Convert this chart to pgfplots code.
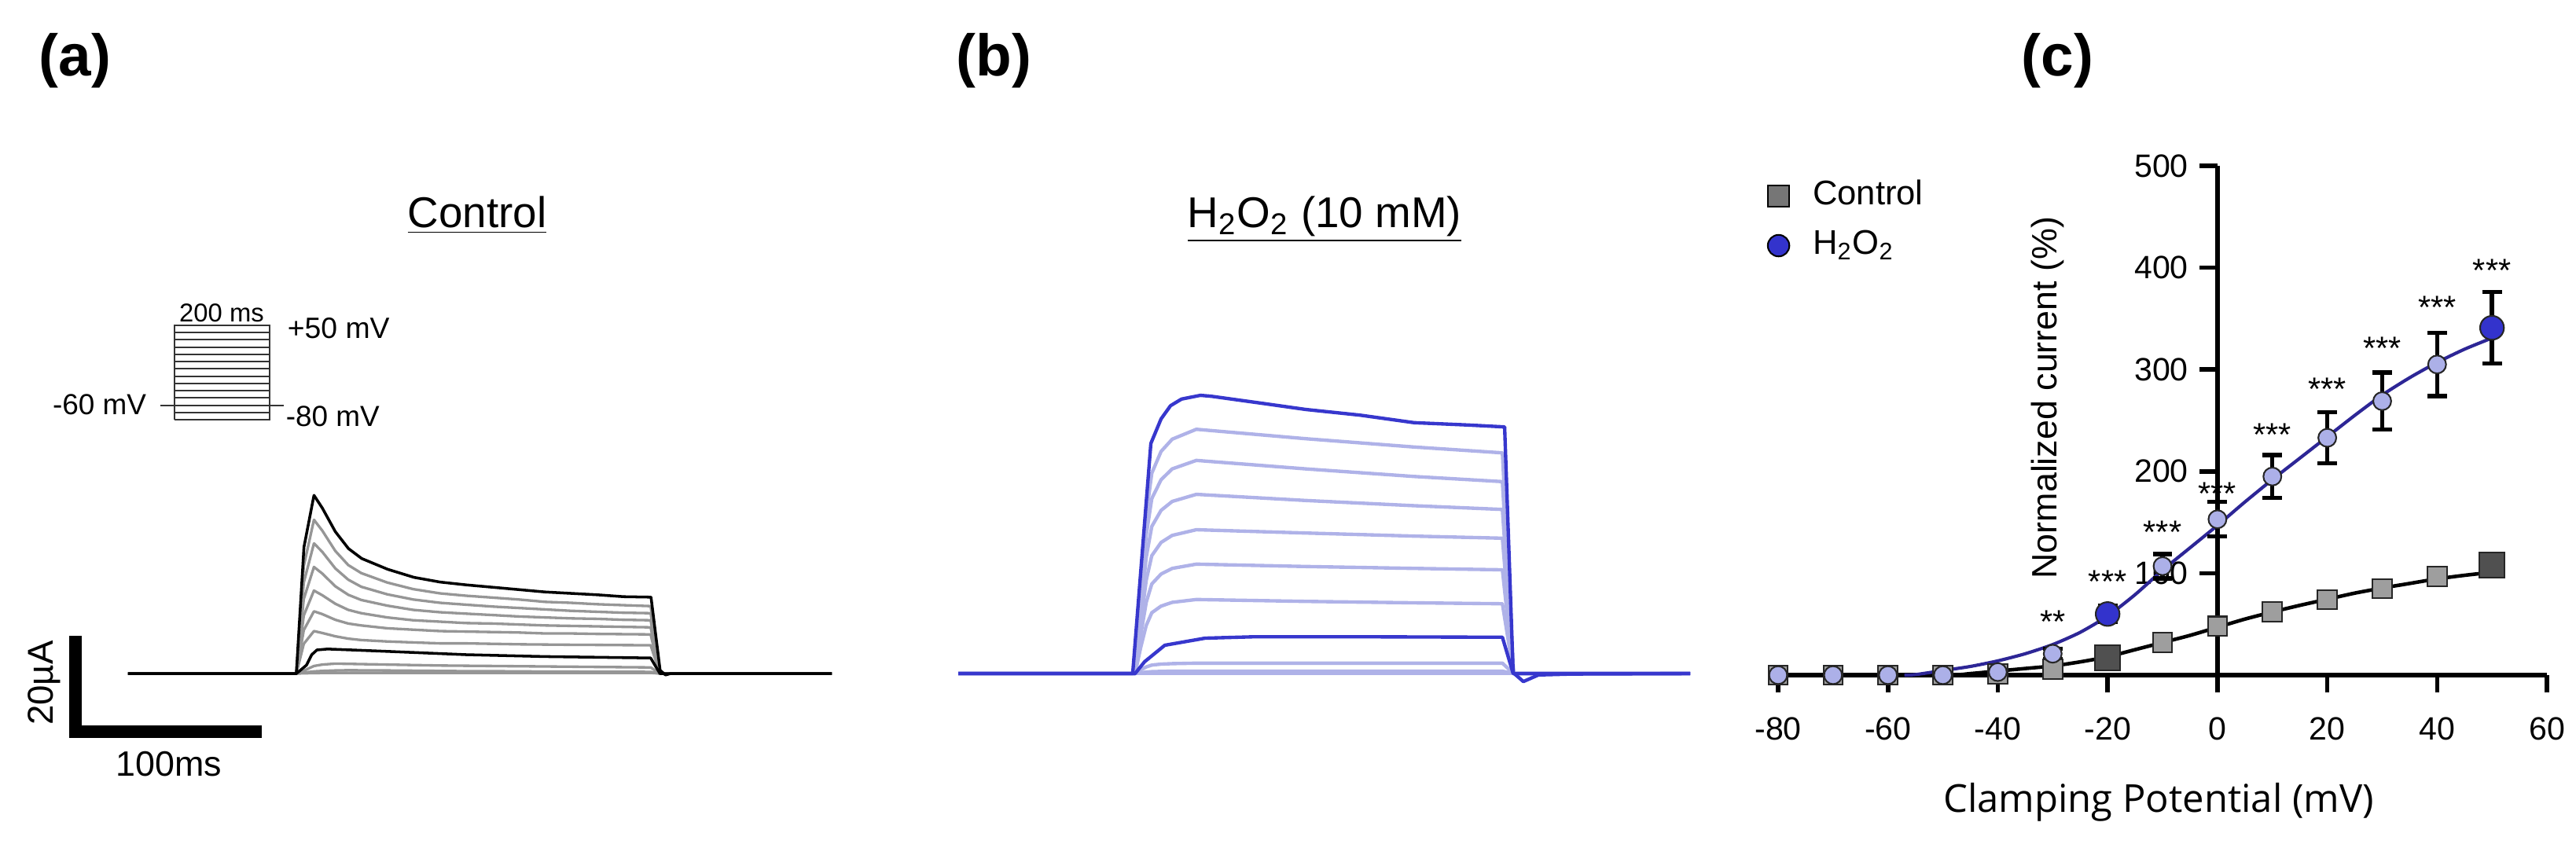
\documentclass[border=0pt]{standalone}
\usepackage{pgfplots}
\usepackage{pgfplotstable}
\pgfplotsset{compat=1.18}
\usepackage{fontspec}
\setmainfont{Liberation Sans}
\newfontfamily\xlabfont{Open Sans}
\definecolor{tgray}{RGB}{150,150,150}
\definecolor{tblue}{RGB}{55,55,205}
\definecolor{tlight}{RGB}{175,178,232}
\definecolor{sqlight}{RGB}{158,158,158}
\definecolor{sqdark}{RGB}{80,80,80}
\definecolor{cirlight}{RGB}{172,176,232}
\definecolor{cirdark}{RGB}{51,51,204}
\definecolor{fitblue}{RGB}{45,38,150}
\definecolor{leggray}{RGB}{118,118,118}
\newcommand{\pxu}{0.2409pt}
\newcommand{\fsz}[1]{\fontsize{#1}{#1}\selectfont}

% Panel (a): control traces, time (ms) vs current (uA)
\pgfplotstableread{
t     a40  a30  a20  a10  a0   am10 am30 am40 am50
-90.7 0    0    0    0    0    0    0    0    0
0     0    0    0    0    0    0    0    0    0
4     22.8 19.3 15.8 12.3 9.2  6.3  0.6  0.2  0.05
9.5   32.6 27.6 22.6 17.6 13.2 9.0  1.6  0.45 0.1
14    30.3 25.8 21.2 16.6 12.6 8.6  1.9  0.55 0.12
21    26.0 22.3 18.5 14.8 11.4 7.9  2.1  0.65 0.15
28    23.0 19.9 16.7 13.5 10.6 7.4  2.05 0.7  0.15
35    21.3 18.4 15.6 12.8 10.2 7.1  2.0  0.68 0.15
49    19.3 16.8 14.4 11.9 9.6  6.8  1.9  0.65 0.15
63    17.9 15.7 13.5 11.3 9.3  6.6  1.8  0.6  0.15
77.5  17.0 15.0 13.0 11.0 9.0  6.4  1.7  0.55 0.15
91.5  16.5 14.6 12.7 10.7 8.9  6.4  1.65 0.5  0.15
106   16.1 14.2 12.4 10.6 8.8  6.3  1.6  0.5  0.15
120   15.7 13.9 12.1 10.4 8.7  6.2  1.55 0.45 0.15
134   15.2 13.6 11.9 10.2 8.5  6.15 1.5  0.42 0.15
148   15.0 13.3 11.7 10.1 8.5  6.1  1.45 0.4  0.15
162   14.7 13.1 11.6 10.0 8.4  6.07 1.4  0.38 0.15
176   14.5 12.9 11.4 9.9  8.35 6.03 1.35 0.36 0.15
191   14.3 12.8 11.3 9.8  8.3  6.0  1.3  0.35 0.15
196   0    0    0    0    0    0    0    0    0
288.6 0    0    0    0    0    0    0    0    0
}\tracesA

% Panel (b): H2O2 traces
\pgfplotstableread{
t     b40   b30  b20  b10   b0   bm10 bm30 bm40 bm50
-95.3 0     0    0    0     0    0    0    0    0
0     0     0    0    0     0    0    0    0    0
3     18.1  15.8 13.3 10.7  8.1  5.5  0.8  0.2  0
6     33.7  29.4 24.7 19.8  15.1 10.2 1.4  0.3  0
9     42.5  37.1 31.2 25.0  19.0 12.9 1.8  0.4  0
14    47.1  41.1 34.6 27.8  21.1 14.3 2.0  0.45 0
20    49.7  43.4 36.5 29.3  22.3 15.1 2.1  0.5  0
33    51.8  45.2 38.0 30.5  23.2 15.7 2.2  0.5  0
92    49.8  43.4 36.7 29.8  22.7 15.3 2.2  0.5  0
150   48.05 41.8 35.6 29.15 22.3 15.0 2.2  0.5  0
198   46.8  40.7 34.8 28.7  22.0 14.8 2.2  0.5  0
204   0     0    0    0     0    0    0    0    0
299.2 0     0    0    0     0    0    0    0    0
}\tracesB

\begin{document}
\begin{tikzpicture}
\path[use as bounding box] (0,0) rectangle (3277*\pxu,-1078*\pxu);

% panel letters
\node[anchor=base west, inner sep=0pt, font=\fsz{18}\bfseries] at (49*\pxu,-96*\pxu) {(a)};
\node[anchor=base west, inner sep=0pt, font=\fsz{18}\bfseries] at (1216*\pxu,-96*\pxu) {(b)};
\node[anchor=base west, inner sep=0pt, font=\fsz{18}\bfseries] at (2571*\pxu,-96*\pxu) {(c)};

% titles
\node[anchor=base, inner sep=0pt, font=\fsz{13.2}] at (607*\pxu,-289*\pxu) {\underline{Control}};
\node[anchor=base, inner sep=0pt, font=\fsz{13.2}] at (1685*\pxu,-289*\pxu) {\underline{H\textsubscript{2}O\textsubscript{2} (10 mM)}};

% ---------------- panel (a) traces ----------------
\begin{axis}[at={(82*\pxu,-947*\pxu)}, anchor=south west,
  x=0.5685pt, y=1.4454pt, xmin=-125, xmax=290, ymin=-15, ymax=40,
  hide axis, clip=false]
\foreach \c in {am50,am40,am30,am10,a0,a10,a20,a30,a40}{
  \addplot[tgray, line width=0.8pt, line join=round] table[x=t, y=\c] {\tracesA};
}
\addplot[black, line width=0.85pt, line join=round] coordinates {(-90.7,0) (0,0) (1.3,0.4) (5.5,1.8) (8.3,4.0) (11.1,5.0) (16.8,5.2) (30,5.0) (49,4.7) (91.6,4.0) (134,3.6) (191,3.3) (196,0) (288.6,0)};
\addplot[black, line width=0.85pt, line join=round] coordinates {(-90.7,0) (0,0) (4.1,26.8) (9.5,37.8) (14,35.1) (21,30.1) (28.1,26.5) (35.2,24.4) (49.3,22.1) (63.4,20.4) (77.5,19.4) (91.6,18.8) (105.8,18.3) (119.9,17.8) (134,17.3) (148.1,17.0) (162.3,16.7) (176.4,16.3) (191.2,16.2) (196.1,0.7) (199,-0.3) (201.8,0) (288.6,0)};
% scale bar (20 uA, 100 ms)
\addplot[black, line width=3.85pt, line cap=rect, line join=miter] coordinates {(-119,6.7) (-119,-12.25) (-22,-12.25)};
\end{axis}
\node[rotate=90, inner sep=0pt, font=\fsz{11}] at (56*\pxu,-869*\pxu) {20µA};
\node[anchor=base, inner sep=0pt, font=\fsz{10.8}] at (215*\pxu,-987*\pxu) {100ms};

% ---------------- stimulation protocol inset ----------------
\begin{axis}[at={(203.8*\pxu,-534*\pxu)}, anchor=south west,
  x=0.1457pt, y=0.2224pt, xmin=-30, xmax=230, ymin=-80, ymax=50,
  hide axis, clip=false]
\addplot[black!80, line width=0.5pt] coordinates {(-30,-60) (230,-60)};
\pgfplotsinvokeforeach{-70,-50,-40,-30,-20,-10,0,10,20,30,40}{
  \addplot[black!80, line width=0.5pt] coordinates {(0,#1) (200,#1)};
}
\addplot[black!80, line width=0.55pt] coordinates {(0,-80) (0,50) (200,50) (200,-80) (0,-80)};
\end{axis}
\node[anchor=base, inner sep=0pt, font=\fsz{7.9}] at (282*\pxu,-409*\pxu) {200 ms};
\node[anchor=base west, inner sep=0pt, font=\fsz{9}] at (365*\pxu,-430*\pxu) {+50 mV};
\node[anchor=base east, inner sep=0pt, font=\fsz{8.9}] at (187*\pxu,-527*\pxu) {-60 mV};
\node[anchor=base west, inner sep=0pt, font=\fsz{8.9}] at (363*\pxu,-542*\pxu) {-80 mV};

% ---------------- panel (b) traces ----------------
\begin{axis}[at={(1208*\pxu,-887*\pxu)}, anchor=south west,
  x=0.5685pt, y=1.4454pt, xmin=-100, xmax=300, ymin=-5, ymax=62,
  hide axis, clip=false]
\foreach \c in {bm50,bm40,bm30,bm10,b0,b10,b20,b30,b40}{
  \addplot[tlight, line width=1.05pt, line join=round] table[x=t, y=\c] {\tracesB};
}
\addplot[tblue, line width=1.05pt, line join=round] coordinates {(-95.3,0) (0,0) (5.1,2.5) (16,6.0) (37.7,7.5) (64.4,7.8) (120,7.8) (198,7.7) (203.8,0) (299.2,0)};
\addplot[tblue, line width=1.05pt, line join=round] coordinates {(-95.3,0) (-1.3,0) (8.5,48.8) (14,54.0) (19.1,56.8) (25,58.2) (35.2,59.0) (41.1,58.8) (68.6,57.3) (92,56.0) (121.2,54.8) (150.4,53.2) (179.7,52.7) (199.2,52.3) (203.8,0.2) (209.3,-1.7) (217.4,-0.3) (235.6,-0.1) (299.2,0)};
\end{axis}

% ---------------- panel (c) I-V curves ----------------
\begin{axis}[at={(2262*\pxu,-859*\pxu)}, anchor=south west,
  x=1.6829pt, y=0.31221pt, xmin=-80, xmax=60, ymin=0, ymax=500,
  axis lines=center, axis line style={line width=1.35pt, -},
  hide obscured x ticks=false, hide obscured y ticks=false,
  xtick={-80,-60,...,60}, ytick={100,200,...,500}, minor tick num=0,
  tick align=outside, major tick length=5.4pt,
  tick style={black, line width=1.35pt},
  tick label style={font=\fsz{9.9}},
  xticklabel style={yshift=-4pt},
  /pgf/number format/assume math mode=true,
  clip=false,
  legend image code/.code={\draw[#1] plot coordinates {(0pt,0pt)};},
  legend cell align=left,
  legend style={at={(axis cs:-82,446)}, anchor=west, draw=none, fill=none,
    inner sep=0pt, row sep=5.4pt, column sep=7.2pt, font=\fsz{10.5},
    nodes={inner sep=0pt, text height=7.5pt, text depth=2.3pt}},
]
\addlegendimage{mark=square*, mark size=3.2pt, mark options={fill=leggray, draw=black, line width=0.5pt}}
\addlegendentry{Control}
\addlegendimage{mark=*, mark size=3.3pt, mark options={fill=cirdark, draw=black, line width=0.5pt}}
\addlegendentry{H\textsubscript{2}O\textsubscript{2}}

% fitted curves
\addplot[forget plot, black, line width=1.1pt, smooth, tension=0.4] coordinates {(-80,0) (-50,0) (-45,1.5) (-40,4) (-35,6.5) (-30,9) (-25,13) (-20,18) (-15,25) (-10,32) (-5,39) (0,47) (5,55) (10,62) (15,68.5) (20,74.5) (25,80.5) (30,85.5) (35,90) (40,94.5) (45,98) (50,101)};
\addplot[forget plot, fitblue, line width=1.0pt, smooth, tension=0.4] coordinates {(-57,0) (-55,0.5) (-50,4.5) (-45,8.5) (-40,14) (-35,21) (-30,30) (-25,42) (-20,58) (-15,79) (-10,103) (-5,125) (0,147) (5,170) (10,192) (15,213) (20,234) (25,255) (30,275) (35,292) (40,307) (45,320) (50,331)};

% error bars (H2O2)
\addplot[forget plot, draw=none, mark=none,
  error bars/.cd, y dir=both, y explicit,
  error bar style={line width=1.3pt, black},
  error mark options={rotate=90, mark size=3pt, line width=1.3pt, black}]
  coordinates {(-30,21) +- (0,5) (-20,60) +- (0,8) (-10,107) +- (0,12) (0,153) +- (0,17) (10,195) +- (0,21) (20,233) +- (0,25) (30,269) +- (0,28) (40,305) +- (0,31) (50,341) +- (0,35)};

% control squares
\addplot[forget plot, only marks, mark=square*, mark size=2.97pt, mark options={fill=sqlight, draw=black!85, line width=0.5pt}]
  coordinates {(-80,0) (-70,0) (-60,0) (-50,0) (-40,1) (-30,6) (-10,32) (0,48) (10,62) (20,74) (30,85) (40,97)};
\addplot[forget plot, only marks, mark=square*, mark size=3.8pt, mark options={fill=sqdark, draw=black!85, line width=0.5pt}]
  coordinates {(-20,17) (50,108)};
% H2O2 circles
\addplot[forget plot, only marks, mark=*, mark size=2.75pt, mark options={fill=cirlight, draw=black!85, line width=0.5pt}]
  coordinates {(-80,0) (-70,0) (-60,0) (-50,0) (-40,3) (-30,21) (-10,107) (0,153) (10,195) (20,233) (30,269) (40,305)};
\addplot[forget plot, only marks, mark=*, mark size=3.65pt, mark options={fill=cirdark, draw=black!85, line width=0.5pt}]
  coordinates {(-20,60) (50,341)};

% significance stars
\node[anchor=base, inner sep=0pt, font=\fsz{10}] at (axis cs:-30,41) {**};
\node[anchor=base, inner sep=0pt, font=\fsz{10}] at (axis cs:-20,81) {***};
\node[anchor=base, inner sep=0pt, font=\fsz{10}] at (axis cs:-10,129) {***};
\node[anchor=base, inner sep=0pt, font=\fsz{10}] at (axis cs:0,167) {***};
\node[anchor=base, inner sep=0pt, font=\fsz{10}] at (axis cs:10,225) {***};
\node[anchor=base, inner sep=0pt, font=\fsz{10}] at (axis cs:20,270) {***};
\node[anchor=base, inner sep=0pt, font=\fsz{10}] at (axis cs:30,310) {***};
\node[anchor=base, inner sep=0pt, font=\fsz{10}] at (axis cs:40,350) {***};
\node[anchor=base, inner sep=0pt, font=\fsz{10}] at (axis cs:50,386) {***};
\end{axis}
\node[rotate=90, inner sep=0pt, font=\fsz{10.8}] at (2605*\pxu,-506*\pxu) {Normalized current (\%)};
\node[anchor=base, inner sep=0pt, font=\xlabfont\fsz{11.8}] at (2746*\pxu,-1033*\pxu) {Clamping Potential (mV)};
\end{tikzpicture}
\end{document}
